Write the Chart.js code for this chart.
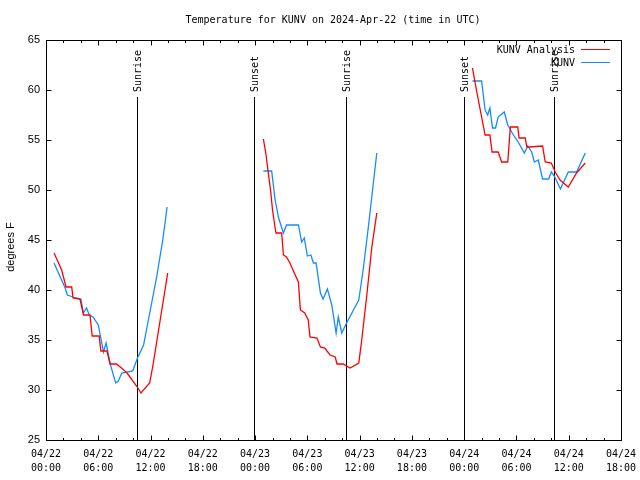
<!DOCTYPE html>
<html><head><meta charset="utf-8">
<script src="https://cdn.jsdelivr.net/npm/chart.js@4.4.1/dist/chart.umd.min.js"></script>
<style>html,body{margin:0;padding:0;background:#fff;}#wrap{width:640px;height:480px;}</style>
</head><body><div id="wrap"><canvas id="c" width="640" height="480"></canvas></div>
<script>
// hours since 2024-04-22 00:00 UTC; null temps mark gaps
const analysisHours = [0.92,1.8,2.3,2.95,3.1,3.9,4.3,5.05,5.3,6.1,6.3,7.0,7.35,8.1,8.8,9.3,10.4,10.9,11.9,12.3,13.97,
  18,
  24.95,25.26,25.5,25.8,26.0,26.3,26.4,27.05,27.25,27.6,28.0,28.5,28.97,29.2,29.7,30.1,30.3,31.1,31.5,32.0,32.6,33.2,33.4,34.1,34.9,35.9,36.2,36.8,37.4,37.97,
  43,
  48.95,49.45,50.0,50.4,50.95,51.2,51.9,52.3,53.0,53.3,54.15,54.3,55.0,55.2,55.45,57.0,57.3,58.0,58.45,59.0,59.95,60.9,61.9];
const analysisTemps = [43.7,42.0,40.3,40.3,39.2,39.1,37.5,37.5,35.4,35.4,33.9,33.9,32.6,32.6,32.1,31.7,30.4,29.7,30.7,32.6,41.7,
  null,
  55.1,53.5,51.8,49.8,48.0,46.2,45.7,45.7,43.5,43.3,42.7,41.7,40.8,38.0,37.7,37.0,35.3,35.2,34.3,34.2,33.5,33.3,32.6,32.6,32.2,32.7,34.7,39.3,44.3,47.7,
  null,
  62.2,59.8,57.3,55.5,55.5,53.8,53.8,52.8,52.8,56.3,56.3,55.2,55.2,54.3,54.3,54.4,52.8,52.7,51.8,51.0,50.3,51.7,52.7];

const obsHours = [0.92,2.2,2.45,3.1,3.45,4.0,4.3,4.65,4.97,5.4,6.0,6.6,6.9,7.4,8.0,8.3,8.7,9.95,10.5,11.2,12.7,13.4,13.9,
  18,
  24.95,25.9,26.3,26.7,27.25,27.6,28.97,29.35,29.65,30.0,30.4,30.7,31.0,31.5,31.8,32.3,32.8,33.3,33.55,33.95,34.5,35.9,36.4,37.0,37.97,
  43,
  48.95,50.0,50.4,50.7,50.95,51.25,51.6,51.9,52.6,53.0,53.65,54.2,54.9,55.3,55.75,56.05,56.5,57.0,57.7,58.0,58.4,59.05,59.95,60.9,61.9];
const obsTemps = [42.7,40.2,39.5,39.3,39.2,39.1,37.7,38.2,37.5,37.3,36.5,33.8,34.7,32.5,30.7,30.9,31.7,31.9,33.2,34.5,41.3,45.0,48.3,
  null,
  51.9,51.9,49.0,47.2,45.7,46.5,46.5,44.8,45.2,43.4,43.5,42.7,42.7,39.7,39.1,40.1,38.5,35.7,37.3,35.7,36.7,39.0,42.0,46.3,53.7,
  null,
  60.9,60.9,58.0,57.5,58.2,56.2,56.2,57.3,57.8,56.5,55.5,54.8,53.7,54.4,53.8,52.8,53.0,51.1,51.1,51.8,51.3,50.1,51.8,51.8,53.7];

const tickHours = [0,6,12,18,24,30,36,42,48,54,60,66];
const tickDates = ['04/22','04/22','04/22','04/22','04/23','04/23','04/23','04/23','04/24','04/24','04/24','04/24'];
const tickTimes = ['00:00','06:00','12:00','18:00','00:00','06:00','12:00','18:00','00:00','06:00','12:00','18:00'];

const sunEventHours = [10.48,23.92,34.48,47.95,58.36];
const sunEventLabels = ['Sunrise','Sunset','Sunrise','Sunset','Sunrise'];

const titleText = 'Temperature for KUNV on 2024-Apr-22 (time in UTC)';
const yTitleText = 'degrees F';

function toPoints(hours, temps){ return hours.map((h,i)=>({x:h, y:temps[i]})); }

const MONO = '10px "DejaVu Sans Mono", monospace';

const decor = {
  id:'decor',
  beforeDatasetsDraw(chart){
    const {ctx, chartArea:a, scales:{x}} = chart;
    ctx.save();
    ctx.strokeStyle='#000'; ctx.lineWidth=1; ctx.fillStyle='#000';
    sunEventHours.forEach((h,i)=>{
      const px = Math.round(x.getPixelForValue(h))+0.5;
      ctx.beginPath(); ctx.moveTo(px,97); ctx.lineTo(px,a.bottom); ctx.stroke();
      ctx.save(); ctx.translate(px,92); ctx.rotate(-Math.PI/2);
      ctx.font=MONO; ctx.textAlign='left'; ctx.textBaseline='middle';
      ctx.fillText(sunEventLabels[i],0,0.5);
      ctx.restore();
    });
    ctx.restore();
  },
  afterDraw(chart){
    const {ctx, chartArea:a, scales:{x,y}} = chart;
    const L=Math.round(a.left)+0.5, R=Math.round(a.right)+0.5, T=Math.round(a.top)+0.5, B=Math.round(a.bottom)+0.5;
    ctx.save();
    ctx.strokeStyle='#000'; ctx.lineWidth=1; ctx.fillStyle='#000';
    ctx.strokeRect(L,T,R-L,B-T);
    ctx.beginPath();
    for(let h=x.min; h<=x.max; h+=2){
      const px=Math.round(x.getPixelForValue(h))+0.5;
      const len = (h%6===0)?5:2.5;
      ctx.moveTo(px,B); ctx.lineTo(px,B-len);
      ctx.moveTo(px,T); ctx.lineTo(px,T+len);
    }
    y.ticks.forEach(t=>{
      const py=Math.round(y.getPixelForValue(t.value))+0.5;
      ctx.moveTo(L,py); ctx.lineTo(L+5,py);
      ctx.moveTo(R,py); ctx.lineTo(R-5,py);
    });
    ctx.stroke();
    ctx.font=MONO; ctx.textAlign='center'; ctx.textBaseline='middle';
    ctx.fillText(titleText, 333, 20);
    ctx.save(); ctx.translate(11,247); ctx.rotate(-Math.PI/2);
    ctx.font='11px "Liberation Sans", Arial, sans-serif'; ctx.textAlign='center'; ctx.textBaseline='middle';
    ctx.fillText(yTitleText,0,0); ctx.restore();
    chart.data.datasets.forEach((ds,i)=>{
      const ly = 50 + i*13;
      ctx.font=MONO; ctx.textAlign='right'; ctx.textBaseline='middle'; ctx.fillStyle='#000';
      ctx.fillText(ds.label, 575, ly);
      ctx.strokeStyle=ds.borderColor; ctx.lineWidth=1;
      ctx.beginPath(); ctx.moveTo(581, Math.round(ly)-0.5); ctx.lineTo(610, Math.round(ly)-0.5); ctx.stroke();
    });
    ctx.restore();
  }
};

new Chart(document.getElementById('c'), {
  type:'line',
  data:{datasets:[
    {label:'KUNV Analysis', data:toPoints(analysisHours, analysisTemps), borderColor:'#ff0000', borderWidth:1.3, pointRadius:0, tension:0, spanGaps:false},
    {label:'KUNV', data:toPoints(obsHours, obsTemps), borderColor:'#148cff', borderWidth:1.3, pointRadius:0, tension:0, spanGaps:false}
  ]},
  options:{
    responsive:false, animation:false, devicePixelRatio:1,
    layout:{padding:{top:40,right:19,left:0,bottom:0}},
    plugins:{legend:{display:false}, title:{display:false}, tooltip:{enabled:false}},
    scales:{
      x:{type:'linear', min:0, max:66,
        afterBuildTicks(s){ s.ticks = tickHours.map(v=>({value:v})); },
        ticks:{autoSkip:false, maxRotation:0, minRotation:0, padding:7, color:'#000',
          font:{family:'"DejaVu Sans Mono", monospace', size:10, lineHeight:1.4},
          callback(v){ const i=tickHours.indexOf(v); return i>=0?[tickDates[i],tickTimes[i]]:''; }},
        grid:{display:false, drawTicks:false, tickLength:0}, border:{display:false},
        afterFit(s){ s.height=40; s.paddingLeft=0; s.paddingRight=0; }},
      y:{min:25, max:65,
        ticks:{stepSize:5, padding:6, color:'#000', font:{family:'"Liberation Sans", Arial, sans-serif', size:11}},
        grid:{display:false, drawTicks:false, tickLength:0}, border:{display:false},
        afterFit(s){ s.width=46; s.paddingTop=0; s.paddingBottom=0; }}
    }
  },
  plugins:[decor]
});
</script></body></html>
